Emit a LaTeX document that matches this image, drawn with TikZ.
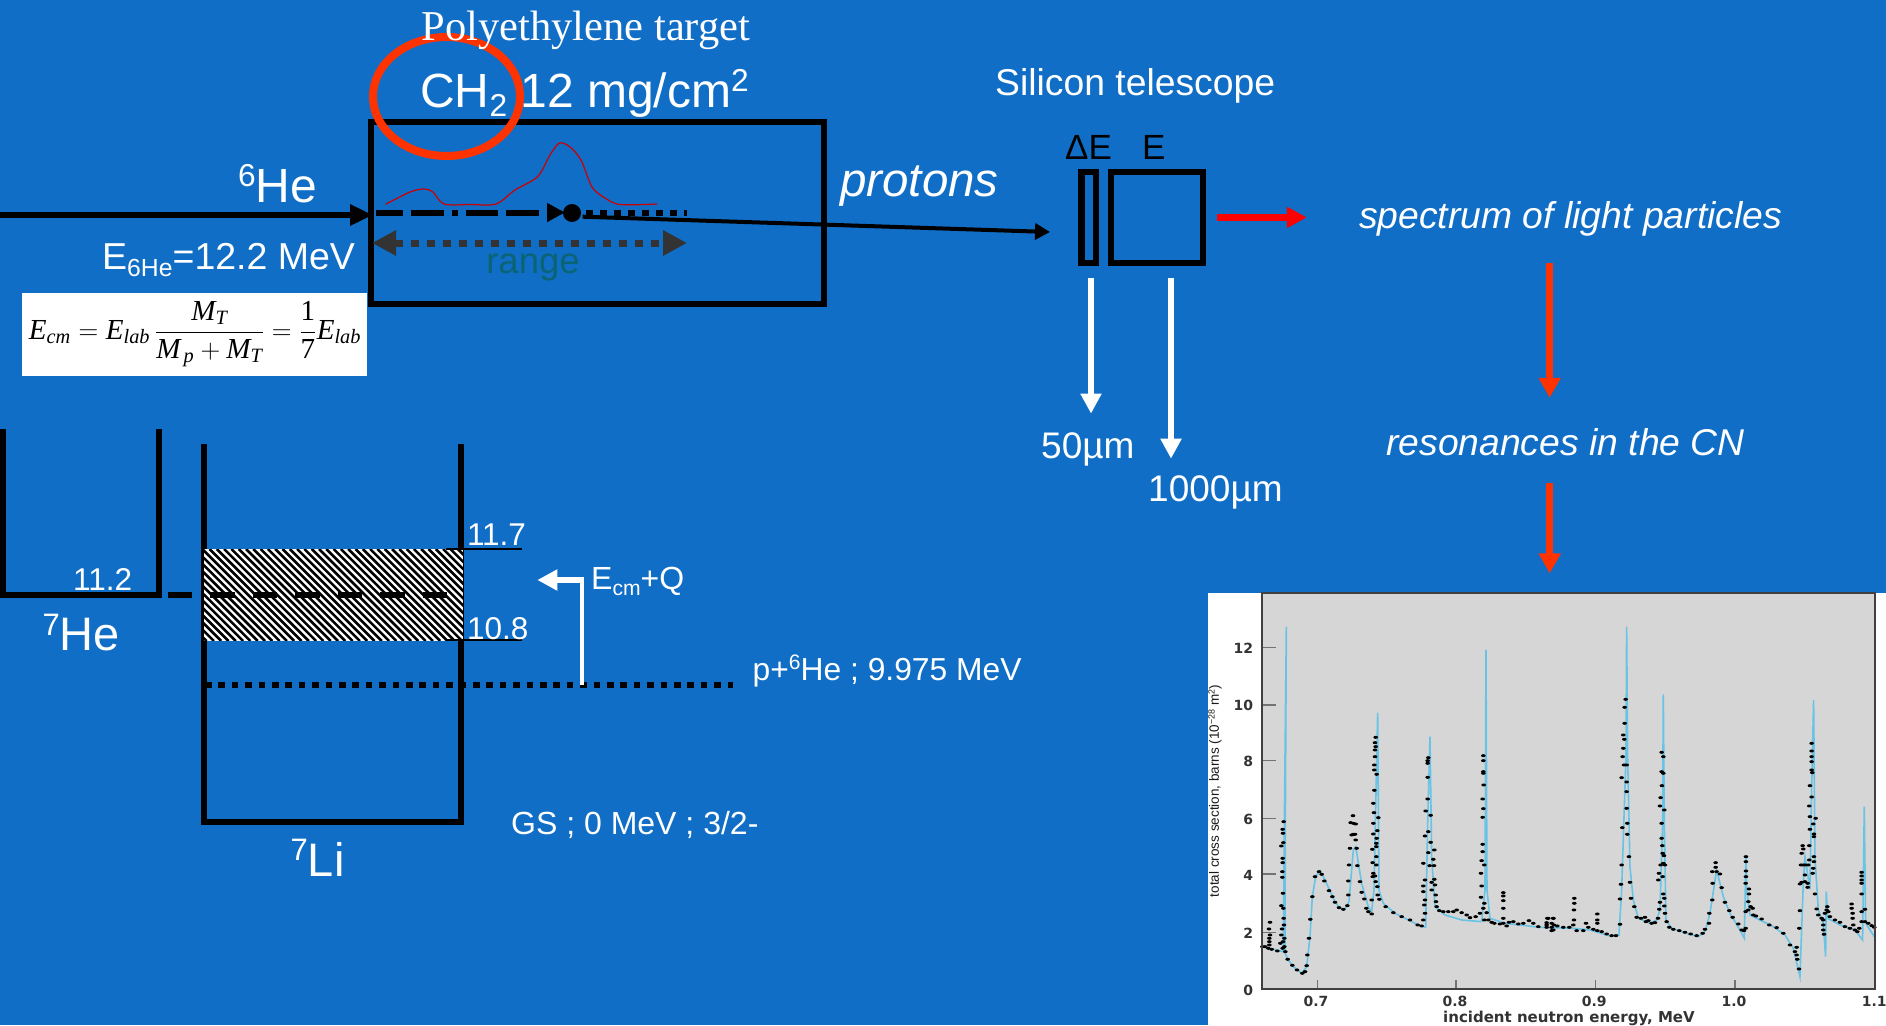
\documentclass[tikz,border=0pt]{standalone}
\usepackage{amsmath}
\usepackage{fontspec}
\setmainfont{Liberation Sans}
\newfontfamily\serifface{Liberation Serif}
\newfontfamily\plotface{DejaVu Sans}
\usepackage{tikz}
\usetikzlibrary{arrows.meta,positioning,calc}
\definecolor{slideblue}{RGB}{16,110,198}
\definecolor{redorange}{RGB}{255,51,0}
\definecolor{rangeteal}{RGB}{10,100,115}
\definecolor{fitblue}{RGB}{105,195,228}
\definecolor{plotgrey}{RGB}{214,214,214}
\newcommand{\fsz}[1]{\fontsize{#1}{#1}\selectfont}
\newcommand{\fvar}[1]{\text{\serifface\itshape #1}}
\newcommand{\fnum}[1]{\text{\serifface #1}}
\newcommand{\supt}[1]{\raisebox{.33em}{\scalebox{.66}{#1}}}
\newcommand{\subt}[1]{\raisebox{-.2em}{\scalebox{.66}{#1}}}
\tikzset{lab/.style={anchor=base west,inner sep=0pt,text=white,font=\fsz{#1}},
  blacklab/.style={anchor=base west,inner sep=0pt,text=black,font=\fsz{#1}},
  frame/.style={draw=black,line width=6pt,inner sep=0pt},
  level/.style={draw=black,line width=6pt},
  tick/.style={draw=black,line width=2.2pt},
  redarrow/.style={draw=redorange,line width=7pt,-{Triangle[length=20pt,width=21pt]}},
  whitearrow/.style={draw=white,line width=6pt,-{Triangle[length=20pt,width=20pt]}},
  ticklab/.style={inner sep=0pt,text=black!80,font=\plotface\bfseries\fsz{14}},
  tickmark/.style={draw=black!55,line width=1.2pt}}
\begin{document}
\begin{tikzpicture}[x=1pt,y=-1pt]
        \useasboundingbox (0,0) rectangle (1886,1025);
        \fill[slideblue] (0,0) rectangle (1886,1025);
        % target
        \node[frame,minimum width=453.5pt,minimum height=181.5pt] (target) at (597.25,212.75) {};
        \draw[redorange,line width=8pt] (446.5,96.5) ellipse [x radius=73.5,y radius=59.5];
        \node[anchor=base,inner sep=0pt,text=white,font=\serifface\fsz{42.5}] (poly) at (586,41) {Polyethylene target};
        \node[lab=48] (ch) at (420,107) {CH\subt{2} 12 mg/cm\supt{2}};
        \draw[red!80!black,line width=1.2pt] plot[smooth,tension=0.5] coordinates {(385.6,204.3) (410,192) (424,189) (433,192) (444,204) (470,204.5) (496,204) (515,190) (537.6,176.7) (550,155) (559.5,143) (570,147) (581,160) (592,187) (605,198) (620,204.5) (657,204)};
        % beam
        \node[lab=48] (he6) at (238,202.5) {\supt{6}He};
        \node[lab=37.5] (elab) at (102,269) {E\subt{6He}=12.2 MeV};
        \coordinate (beamstart) at (0,215);
        \coordinate (beamend) at (373,215);
        \draw[black,line width=6pt,-{Triangle[length=23pt,width=20pt]}] (beamstart) -- (beamend);
        \coordinate (slowstart) at (376,212.5);
        \coordinate (slowend) at (565,212.5);
        \draw[black,line width=6pt,dash pattern=on 27pt off 8pt on 33pt off 8pt on 6pt off 8pt on 32pt off 8pt on 33pt off 30pt,-{Triangle[length=18pt,width=18pt]}] (slowstart) -- (slowend);
        \node[circle,fill=black,inner sep=0pt,minimum size=18pt] (vertex) at (572,213) {};
        \coordinate (dotend) at (687,213);
        \draw[black,line width=6pt,dash pattern=on 7pt off 7pt] ($(vertex.east)+(5,0)$) -- (dotend);
        \coordinate (rangeleft) at (372,243);
        \coordinate (rangeright) at (687,243);
        \draw[black!80,line width=7pt,dash pattern=on 8pt off 8pt,{Triangle[length=24pt,width=24pt]}-{Triangle[length=24pt,width=24pt]}] (rangeleft) -- (rangeright);
        \node[anchor=base,inner sep=0pt,text=rangeteal,font=\fsz{36.5}] (range) at (533,273) {range};
        \coordinate (protonstart) at (582.6,216.7);
        \coordinate (protonend) at (1050,232);
        \node[lab=47.5,font=\fsz{47.5}\itshape] (protons) at (840,196) {protons};
        % formula
        \node[fill=white,minimum width=345pt,minimum height=83pt,inner sep=0pt] (formbox) at (194.5,334.5) {};
        \node[inner sep=0pt,font=\fsz{22},scale=1.32,transform shape] (form) at (195,334) {$\fvar{E}_{\fvar{cm}}=\fvar{E}_{\fvar{lab}}\,\dfrac{\fvar{M}_{\fvar{T}}}{\fvar{M}_{\,\fvar{p}}+\fvar{M}_{\fvar{T}}}=\dfrac{\fnum{1}}{\fnum{7}}\fvar{E}_{\fvar{lab}}$};
        % telescope
        \node[lab=37.3] (silicon) at (995,95.8) {Silicon telescope};
        \node[blacklab=35] (deltae) at (1065,159.5) {ΔE};
        \node[blacklab=35] (elabel) at (1142,159.5) {E};
        \node[frame,line width=6.5pt,minimum width=14.5pt,minimum height=91pt] (dedet) at (1088.75,217.5) {};
        \node[frame,minimum width=92pt,minimum height=91pt] (edet) at (1156.5,217.5) {};
        \draw[black,line width=4pt,-{Triangle[length=15pt,width=16pt]}] (protonstart) -- (protonend);
        \coordinate (decut) at (1091,278);
        \coordinate (detip) at (1091,413.6);
        \coordinate (ecut) at (1171,278);
        \coordinate (etip) at (1171,458.7);
        \draw[whitearrow] (decut) -- (detip);
        \draw[whitearrow] (ecut) -- (etip);
        \node[lab=37] (fifty) at (1041,458) {50µm};
        \node[lab=37] (thousand) at (1148,501) {1000µm};
        \coordinate (outstart) at (1217,217.4);
        \coordinate (outend) at (1306.8,217.4);
        \draw[draw=red,line width=7.5pt,-{Triangle[length=20pt,width=20pt]}] (outstart) -- (outend);
        \node[lab=37.3,font=\fsz{37.3}\itshape] (spectrum) at (1359,228) {spectrum of light particles};
        \node[lab=37.3,font=\fsz{37.3}\itshape] (reson) at (1386,455.6) {resonances in the CN};
        \coordinate (stepa) at (1549.7,262.5);
        \coordinate (stepb) at (1549.7,397.8);
        \coordinate (stepc) at (1549.7,483);
        \coordinate (stepd) at (1549.7,573.4);
        \draw[redarrow] (stepa) -- (stepb);
        \draw[redarrow] (stepc) -- (stepd);
        % levels
        \draw[level] (2.5,429) -- (2.5,594.7) -- (0,594.7) (2.5,594.7) -- (158.7,594.7) -- (158.7,429);
        \draw[level] (204.3,444) -- (204.3,821.7) -- (461,821.7) -- (461,444);
        \begin{scope}
          \clip (203.5,549) rectangle (462.8,640.7);
          \fill[white] (203.5,549) rectangle (462.8,640.7);
          \foreach \xa in {100,107.3,...,470}
            \draw[black,line width=2.6pt] (\xa,549) -- (\xa+92,641);
        \end{scope}
        \draw[tick] (446,549) -- (521.7,549);
        \draw[tick] (446,640) -- (521.7,640);
        \draw[black,line width=6pt,dash pattern=on 24.8pt off 17.7pt] (167.5,594.7) -- (449,594.7);
        \draw[black,line width=6pt,dash pattern=on 6.5pt off 6.9pt] (205,685.3) -- (733.4,685.3);
        \coordinate (qbottom) at (582.3,685);
        \coordinate (qcorner) at (582.3,580);
        \coordinate (qtip) at (537.3,580);
        \draw[white,line width=4pt] (qbottom) -- (qcorner);
        \draw[whitearrow] ($(qcorner)+(2,0)$) -- (qtip);
        \node[lab=31.5] (v112) at (73,590) {11.2};
        \node[lab=47] (he7) at (42.5,650.7) {\supt{7}He};
        \node[lab=47] (li7) at (290.5,876) {\supt{7}Li};
        \node[lab=31.5] (v117) at (466.8,545) {11.7};
        \node[lab=31.5] (v108) at (466.8,639) {10.8};
        \node[lab=32] (ecmq) at (591,589) {E\subt{cm}+Q};
        \node[lab=31.8] (channel) at (752.5,680) {p+\supt{6}He ; 9.975 MeV};
        \node[lab=32] (gs) at (511,834) {GS ; 0 MeV ; 3/2-};
        % cross section plot
        \fill[white] (1208,593) rectangle (1886,1025);
        \fill[plotgrey] (1261.7,593) rectangle (1875,989);
        \begin{scope}[shift={(1205,590)},x=0.3333pt,y=-0.3333pt]
          \foreach \ya in {173,345,512,685,852,1028}
            \draw[tickmark] (170,\ya) -- (213,\ya);
          \foreach \xa in {338,753,1172,1590}
            \draw[tickmark] (\xa,1197) -- (\xa,1170);
          \draw[fitblue,line width=1.6pt] plot coordinates {(170,1070) (235,1085) (238,700) (244,110) (241,700) (240,1090) (250,1110) (265,1130) (290,1150) (305,1130) (315,1040) (322,920) (332,860) (345,842) (360,870) (390,935) (405,955) (420,958) (432,935) (445,780) (452,770) (470,880) (490,950) (500,965) (507,900) (518,368) (522,900) (535,940) (570,970) (640,1005) (662,1012) (668,700) (675,440) (680,800) (690,950) (720,975) (770,990) (830,995) (840,900) (843,180) (846,900) (855,985) (900,1000) (1005,1012) (1105,1015) (1155,1020) (1215,1038) (1242,1035) (1250,900) (1263,500) (1265,110) (1268,500) (1275,830) (1285,930) (1300,985) (1335,1000) (1355,990) (1365,960) (1373,700) (1375,313) (1378,700) (1383,990) (1400,1015) (1445,1030) (1480,1040) (1500,1025) (1515,970) (1535,840) (1555,920) (1575,970) (1605,1020) (1618,1045) (1623,800) (1625,900) (1635,975) (1705,1010) (1740,1035) (1765,1075) (1785,1160) (1795,880) (1800,800) (1815,898) (1820,600) (1826,330) (1830,800) (1840,960) (1855,1000) (1862,1100) (1864,905) (1868,985) (1905,1005) (1950,1020) (1973,1050) (1978,650) (1982,1000) (2008,1040)};
          \foreach \xa/\ya in {172/1070,180/1070,190/1075,200/1078,217/1083,195/997,192/1017,195/1035,193/1045,193/1055,193/1065,236/695,233/718,234/730,235/758,229/768,233/805,233/818,232/845,232/862,234/910,229/947,235/955,236/985,231/1017,237/1005,229/1035,238/1045,234/1055,226/1060,238/1070,233/1075,241/1085,248/1108,262/1126,276/1140,292/1150,300/1145,305/1127,307/1095,312/1045,316/988,322/920,330/860,342/845,350/853,358/873,372/902,382/920,390/937,402/953,415/958,427/947,430/915,430/873,432/825,435/775,440/735,437/698,444/677,445/700,452/702,445/733,450/733,452/750,455/775,457/827,465/875,470/907,478/927,484/955,490/965,500/972,500/930,502/778,505/732,505/700,507/668,505/640,508/601,508/540,508/525,510/500,510/480,512/470,510/458,512/442,515/553,520/683,517/722,515/745,514/760,514/770,514/800,503/818,514/825,505/850,503/860,510/858,512/875,517/890,518/915,523/928,542/950,565/968,590/980,615/990,638/1005,650/1008,655/990,660/970,658/945,660/930,655/905,655/888,660/870,655/820,660/738,662/663,668/627,668/562,668/520,668/512,670/503,677/676,670/725,677/757,670/788,674/827,687/827,685/808,688/780,680/877,688/868,690/885,680/900,692/915,693/935,695/950,703/962,715/965,730/965,745/965,755/960,770/968,785/975,795/983,812/980,825/970,835/955,838/940,828/922,830/888,828/850,838/825,830/812,833/785,833/763,833/682,835/656,833/627,836/585,835/550,835/545,835/512,835/497,845/968,838/990,850/990,860/997,868/1000,885/1002,895/1000,905/1008,895/985,895/955,895/932,895/918,895/908,912/997,925/995,940/1002,955/1000,972/992,985/1000,1000/1010,1030/985,1045/985,1025/998,1040/1000,1045/1020,1025/1012,1040/1012}
            \fill[black] (\xa,\ya) circle [x radius=7,y radius=4.5];
          \foreach \xa/\ya in {22/985,40/985,20/1005,42/1005,35/1022,52/1008,70/1012,88/1012,100/1005,102/990,102/960,103/940,103/925,110/1022,130/1022,138/1000,145/1012,160/1018,172/1022,172/1000,172/990,172/972,185/1025,200/1032,215/1037,228/1037,240/1003,240/927,243/883,245/825,247/713,245/563,252/525,248/500,250/475,253/448,250/435,254/400,254/352,257/328,260/525,260/576,260/605,260/655,262/700,262/733,267/800,270/877,273/925,283/950,290/982,303/985,315/982,318/995,325/992,335/1000,345/998,354/985,358/958,360/937,355/870,357/850,362/825,365/700,360/648,362/623,366/587,365/545,370/550,365/487,370/500,373/660,367/767,365/745,368/790,372/797,370/820,375/825,368/860,370/912,373/925,373/948,375/970,380/995,388/1012,400/1018,418/1022,435/1027,452/1032,470/1037,488/1030,495/1018,507/1000,508/970,517/930,518/880,517/845,527/818,527/832,530/845,540/852,545/893,555/937,568/962,578/982,595/1002,605/1020,612/1022,617/1015,617/965,617/880,618/860,618/843,618/815,618/800,625/960,625/935,627/912,627/897,632/950,638/955,640/975,648/978,665/987,688/1005,710/1013,730/1030,750/1065,770/1072,765/1085,770/1095,772/1108,777/1137,778/1015,780/962,780/882,785/877,795/875,803/880,803/892,783/825,790/825,797/825,785/790,788/767,790/777,795/855,808/767,805/825,808/810,810/718,810/680,808/648,815/621,810/587,817/548,815/540,815/515,815/500,815/483,815/460,822/800,822/815,820/835,818/850,825/912,822/740,822/732,820/702,827/685,830/957,835/975,845/985,850/990,850/1005,850/1020,852/1033,855/970,860/960,862/950,865/965,870/980,885/990,900/997,915/1010,930/1015,945/1020,952/1025,940/1005,938/985,938/970,935/955,935/942,958/1015,965/995,965/965,975/958,965/912,965/880,965/870,965/858,965/847,975/995,985/1000,995/1007,1003/1012}
            \fill[black] ($(1005,0)+(\xa,\ya)$) circle [x radius=7,y radius=4.5];
          \foreach \ya/\lab in {175/12,347/10,514/8,687/6,855/4,1030/2,1201/0}
            \node[ticklab,anchor=east] (y\lab) at (145,\ya) {\lab};
          \foreach \xa/\lab/\nam in {333/0.7/a,750/0.8/b,1168/0.9/c,1587/1.0/d,2008/1.1/e}
            \node[ticklab,anchor=center] (x\nam) at (\xa,1233) {\lab};
        \end{scope}
        \draw[black!75,line width=1.6pt] (1261.7,593) rectangle (1875,989);
        \node[ticklab,anchor=base west,font=\plotface\bfseries\fsz{15}] (xtitle) at (1443,1022) {incident neutron energy, MeV};
        \node[inner sep=0pt,text=black!90,rotate=90,font=\fsz{13.5}] (ytitle) at (1215,791) {total cross section, barns (10\supt{−28} m\supt{2})};
\end{tikzpicture}
\end{document}
